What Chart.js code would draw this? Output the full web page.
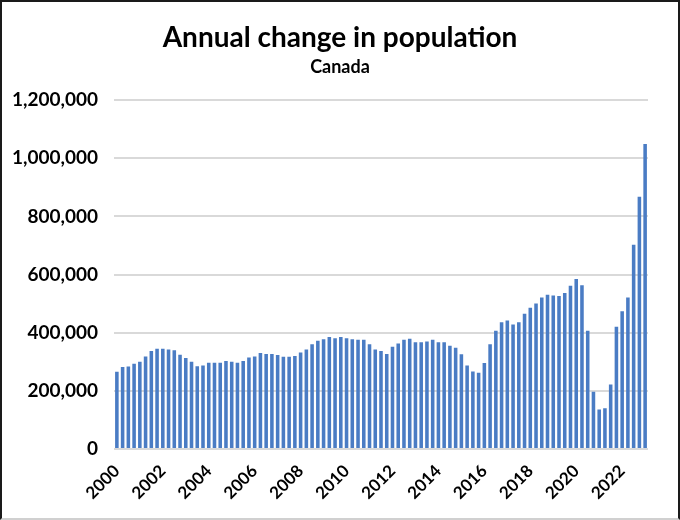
<!DOCTYPE html>
<html>
<head>
<meta charset="utf-8">
<script src="https://cdn.jsdelivr.net/npm/chart.js@4"></script>
<style>
    body { margin: 0; background: #fff; }
    #wrap { position: relative; width: 680px; height: 520px; }
    #frame {
        position: absolute; left: 0; top: 0; width: 680px; height: 520px;
        box-sizing: border-box; pointer-events: none;
        border: 2px solid #1a1a1a; border-bottom: 2px solid #d0d0d0;
    }
</style>
</head>
<body>
<div id="wrap">
    <canvas id="popChart" width="680" height="520"></canvas>
    <div id="frame"></div>
</div>
<script>
// Quarterly series, 2000 Q1 to 2023 Q1
const years = [];
for (let y = 2000; y <= 2023; y++) years.push(y);
const quarters = ['Q1', 'Q2', 'Q3', 'Q4'];

const categories = [];
years.forEach(y => quarters.forEach(q => {
    if (y < 2023 || q === 'Q1') categories.push(y + ' ' + q);
}));

const tickYears = ['2000', '2002', '2004', '2006', '2008', '2010',
                   '2012', '2014', '2016', '2018', '2020', '2022'];

// Annual change in population (persons)
const popChange = [
    266000, 282000, 284000, 293000, 300000, 318000, 337000, 345000,
    345000, 342000, 340000, 324000, 313000, 300000, 285000, 287000,
    297000, 297000, 297000, 303000, 300000, 297000, 303000, 315000,
    318000, 330000, 327000, 327000, 323000, 317000, 317000, 320000,
    332000, 342000, 360000, 372000, 378000, 385000, 381000, 385000,
    381000, 378000, 376000, 376000, 360000, 342000, 337000, 327000,
    352000, 363000, 376000, 379000, 367000, 367000, 370000, 376000,
    367000, 367000, 355000, 348000, 326000, 287000, 267000, 262000,
    296000, 360000, 407000, 436000, 442000, 428000, 436000, 465000,
    486000, 501000, 521000, 531000, 528000, 526000, 537000, 562000,
    585000, 563000, 407000, 197000, 136000, 140000, 222000, 421000,
    474000, 521000, 703000, 868000, 1049000
];

const yTicks = [0, 200000, 400000, 600000, 800000, 1000000, 1200000];

function initPopChart() {
    const ctx = document.getElementById('popChart');
    if (!ctx) {
        console.error('Chart canvas not found');
        return;
    }

    new Chart(ctx.getContext('2d'), {
        type: 'bar',
        data: {
            labels: categories,
            datasets: [{
                label: 'Annual change',
                data: popChange,
                backgroundColor: '#4a7cc4',
                borderWidth: 0,
                barPercentage: 0.62,
                categoryPercentage: 1.0
            }]
        },
        options: {
            responsive: false,
            animation: false,
            layout: {
                padding: { left: 0, right: 0, top: 0, bottom: 3 }
            },
            plugins: {
                legend: { display: false },
                tooltip: { enabled: false },
                title: {
                    display: true,
                    text: 'Annual change in population',
                    color: '#000',
                    font: { family: 'Lato', size: 28, weight: 'bold' },
                    padding: { top: 21, bottom: 2 }
                },
                subtitle: {
                    display: true,
                    text: 'Canada',
                    color: '#000',
                    font: { family: 'Lato', size: 18, weight: 'bold' },
                    padding: { top: 0, bottom: 22 }
                }
            },
            scales: {
                y: {
                    min: 0,
                    max: 1200000,
                    afterBuildTicks: function(scale) {
                        scale.ticks = yTicks.map(v => ({ value: v }));
                    },
                    afterFit: function(scale) {
                        scale.width = 114;
                    },
                    border: { display: false },
                    grid: {
                        color: '#d9d9d9',
                        lineWidth: 2,
                        drawTicks: false
                    },
                    ticks: {
                        color: '#000',
                        padding: 16,
                        font: { family: 'Lato', size: 19, weight: 'bold' },
                        callback: function(value) {
                            return value.toLocaleString('en-US');
                        }
                    }
                },
                // empty right-hand spacer so the title stays centred on the page
                yRight: {
                    position: 'right',
                    min: 0,
                    max: 1200000,
                    afterFit: function(scale) {
                        scale.width = 32;
                    },
                    border: { display: false },
                    grid: { display: false, drawTicks: false },
                    ticks: { display: false }
                },
                x: {
                    afterFit: function(scale) {
                        scale.height = 68;
                    },
                    border: { display: false },
                    grid: { display: false },
                    ticks: {
                        color: '#000',
                        autoSkip: false,
                        minRotation: 45,
                        maxRotation: 45,
                        padding: 4,
                        font: { family: 'Lato', size: 17, weight: 'bold' },
                        callback: function(value, index) {
                            const parts = categories[index].split(' ');
                            if (parts[1] === 'Q1' && tickYears.includes(parts[0])) {
                                return parts[0];
                            }
                            return '';
                        }
                    }
                }
            }
        }
    });
}

if (document.readyState === 'loading') {
    document.addEventListener('DOMContentLoaded', initPopChart);
} else {
    initPopChart();
}
</script>
</body>
</html>
